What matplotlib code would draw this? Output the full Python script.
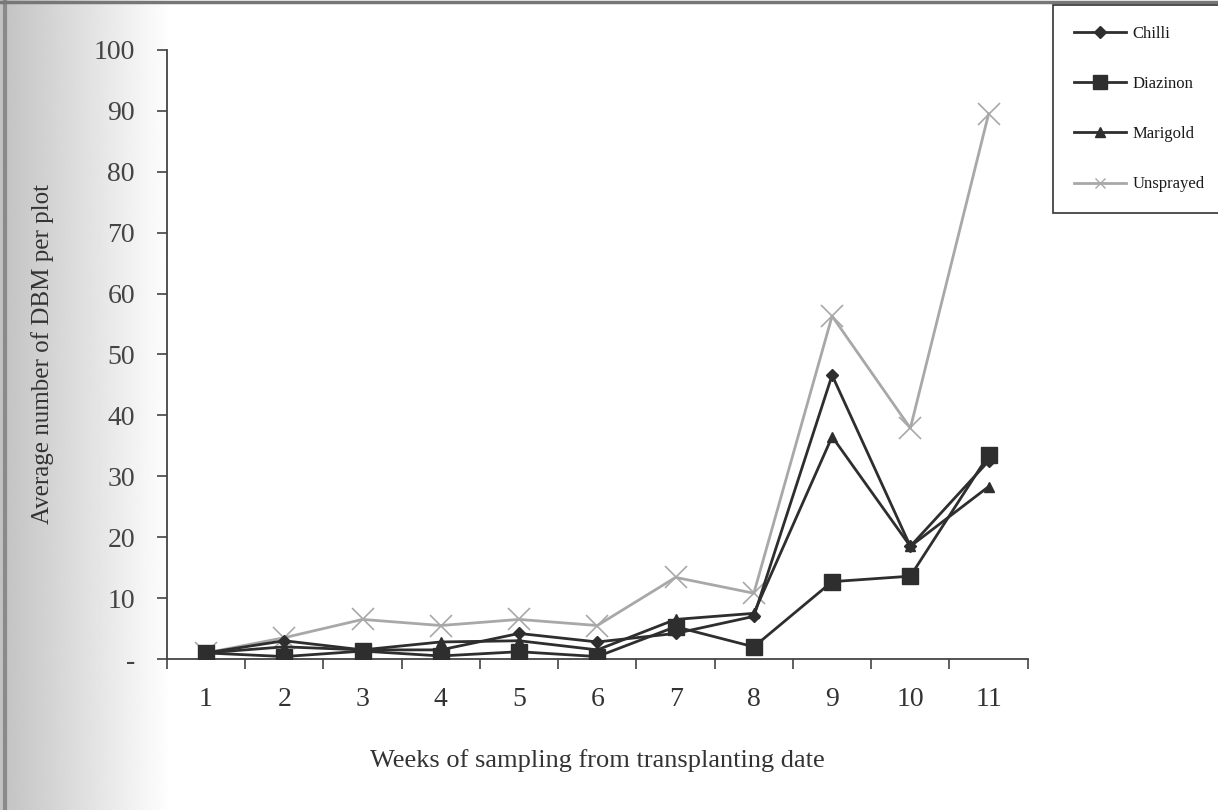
import numpy as np
import matplotlib
matplotlib.use("Agg")
import matplotlib.pyplot as plt
from matplotlib.lines import Line2D

weeks = list(range(1, 12))
chilli = [1.0, 3.0, 1.5, 1.5, 4.2, 2.8, 4.2, 7.0, 46.6, 18.5, 32.5]
diazinon = [1.0, 0.4, 1.3, 0.5, 1.2, 0.4, 5.3, 2.0, 12.7, 13.6, 33.5]
marigold = [1.0, 2.0, 1.5, 2.8, 3.0, 1.5, 6.5, 7.5, 36.5, 18.5, 28.3]
unsprayed = [1.0, 3.5, 6.5, 5.5, 6.5, 5.5, 13.4, 10.8, 56.3, 37.9, 89.5]

plt.rcParams["font.family"] = ["Liberation Serif", "DejaVu Serif"]

fig = plt.figure(figsize=(12.18, 8.10), dpi=100, facecolor="white")

# scanned-page shading on the left edge and top
bg = fig.add_axes([0, 0, 0.14, 1], zorder=-5)
grad = np.linspace(0.76, 1.0, 256).reshape(1, -1)
bg.imshow(grad, cmap="gray", vmin=0, vmax=1, aspect="auto", extent=(0, 1, 0, 1))
bg.set_xlim(0, 1)
bg.set_ylim(0, 1)
bg.axvline(0.03, color="#8a8a8a", lw=3)
bg.axis("off")
fig.add_artist(Line2D([0, 1], [0.998, 0.998], transform=fig.transFigure, color="#777777", lw=2.5))

ax = fig.add_axes([0.137, 0.1864, 0.7068, 0.752])
ax.patch.set_alpha(0)

dark = "#2e2e2e"
light = "#a8a8a8"
ax.plot(weeks, unsprayed, color=light, lw=2, marker="x", ms=16, mew=1.2, label="Unsprayed", zorder=2)
ax.plot(weeks, marigold, color=dark, lw=2, marker="^", ms=7, label="Marigold", zorder=3)
ax.plot(weeks, diazinon, color=dark, lw=2, marker="s", ms=12, label="Diazinon", zorder=4)
ax.plot(weeks, chilli, color=dark, lw=2, marker="D", ms=6, label="Chilli", zorder=5)

ax.set_xlim(0.5, 11.5)
ax.set_ylim(0, 100)
ax.set_yticks(range(0, 101, 10))
ax.set_yticklabels(["-"] + [str(v) for v in range(10, 101, 10)])
ax.set_xticks(weeks)
ax.set_xticks(np.arange(0.5, 11.6, 1), minor=True)
ax.tick_params(axis="x", which="major", length=0, pad=20, labelsize=20, labelcolor="#333333")
ax.tick_params(axis="x", which="minor", length=7, direction="out", width=1.2, color="#444444")
ax.tick_params(axis="y", length=7, width=1.2, color="#444444", pad=16, labelsize=20, labelcolor="#444444")
for s in ("top", "right"):
    ax.spines[s].set_visible(False)
for s in ("left", "bottom"):
    ax.spines[s].set_color("#444444")
    ax.spines[s].set_linewidth(1.3)

ax.set_xlabel("Weeks of sampling from transplanting date", fontsize=19, color="#333333")
ax.xaxis.label.set_va("center")
ax.xaxis.set_label_coords(0.5, -0.166)
ax.set_ylabel("Average number of DBM per plot", fontsize=18, color="#333333")
ax.yaxis.label.set_va("center")
ax.yaxis.set_label_coords(-0.144, 0.5)

handles = [
    Line2D([], [], color=dark, lw=2, marker="D", ms=6),
    Line2D([], [], color=dark, lw=2, marker="s", ms=10),
    Line2D([], [], color=dark, lw=2, marker="^", ms=7),
    Line2D([], [], color=light, lw=2, marker="x", ms=7),
]
leg = fig.legend(handles, ["Chilli", "Diazinon", "Marigold", "Unsprayed"],
                 loc="upper left", bbox_to_anchor=(1053 / 1218, 1 - 5 / 810),
                 frameon=True, fancybox=False, edgecolor="#333333", framealpha=1,
                 fontsize=12, handlelength=3.1, labelspacing=2.05, borderpad=1.25,
                 handletextpad=0.4, borderaxespad=0)
leg.get_frame().set_linewidth(1.2)
for t in leg.get_texts():
    t.set_color("#1a1a1a")

fig.savefig("out.png", dpi=100, facecolor="white")
